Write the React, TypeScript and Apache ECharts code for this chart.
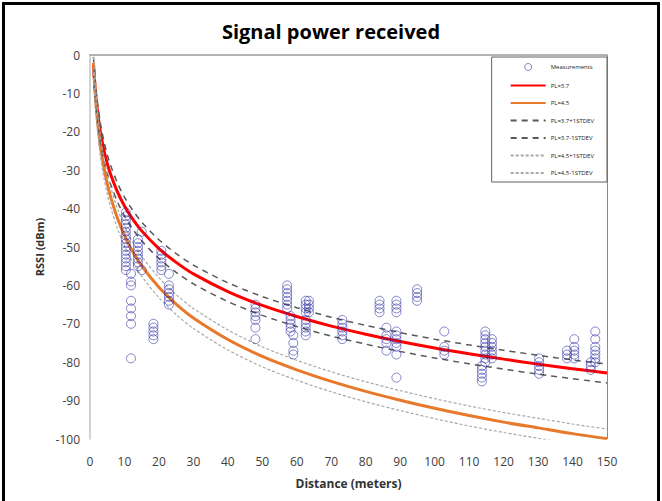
import React, { useEffect, useRef } from "react";
import * as echarts from "echarts";

// Measurement clusters: distance (m) and the RSSI readings (dBm) at that distance
const clusterDistances = [
  10.4, 11.9, 13.9, 15.0, 18.4, 20.7, 22.9, 48.0, 57.2, 58.2, 59.0, 62.6, 63.5,
  73.2, 84.0, 86.0, 88.9, 94.9, 102.8, 113.7, 114.7, 116.6, 130.3, 138.4, 140.5,
  145.3, 146.6,
];
const clusterRssi = [
  [-41, -42, -43, -44, -45, -46, -47, -48, -49, -50, -51, -52, -53, -54, -55, -56],
  [-57, -59, -60, -64, -66, -68, -70, -79],
  [-48, -49, -50, -51, -52, -53, -54, -55],
  [-46, -56],
  [-70, -71, -72, -73, -74],
  [-51, -52, -53, -54, -55, -56],
  [-57, -60, -61, -62, -63, -64, -65],
  [-65, -66, -67, -68, -69, -71, -74],
  [-60, -61, -62, -63, -64, -65, -66],
  [-68, -69, -70, -71, -72],
  [-73, -75, -77, -78],
  [-64, -65, -66, -67, -69, -70, -71, -72, -73],
  [-64, -65, -66, -67],
  [-69, -70, -71, -72, -73, -74],
  [-64, -65, -66, -67],
  [-71, -73, -74, -75, -77],
  [-64, -65, -66, -67, -72, -73, -74, -75, -76, -78, -84],
  [-61, -62, -63, -64],
  [-72, -76, -77, -78],
  [-81, -82, -83, -84, -85],
  [-72, -73, -74, -75, -76, -77, -78, -79, -80],
  [-74, -75, -76, -77, -78, -79],
  [-79, -80, -81, -82, -83],
  [-77, -78, -79],
  [-74, -76, -77, -78, -79],
  [-80, -81, -82],
  [-72, -74, -76, -77, -78, -79, -80],
];

// Model curves
const curveDistances = [
  1, 1.5, 2, 3, 4, 5, 6, 8, 10, 12, 15, 20, 25, 30, 40, 50, 60, 70, 80, 90, 100,
  110, 120, 130, 140, 150,
];
const pl37 = [
  -2.3, -8.8, -13.4, -20.0, -24.6, -28.2, -31.1, -35.7, -39.3, -42.2, -45.8,
  -50.4, -54.0, -57.0, -61.6, -65.2, -68.1, -70.6, -72.7, -74.6, -76.3, -77.8,
  -79.2, -80.5, -81.7, -82.8,
];
const pl45 = [
  -2.0, -9.9, -15.5, -23.5, -29.1, -33.5, -37.0, -42.6, -47.0, -50.6, -54.9,
  -60.5, -64.9, -68.5, -74.1, -78.5, -82.0, -85.0, -87.6, -89.9, -92.0, -93.9,
  -95.6, -97.1, -98.6, -99.9,
];
const pl37Plus = [
  -0.5, -6.5, -11.1, -17.7, -22.3, -25.9, -28.8, -33.4, -37.0, -39.9, -43.5, -48.1,
  -51.7, -54.7, -59.3, -62.9, -65.8, -68.3, -70.4, -72.3, -74.0, -75.5, -76.9,
  -78.2, -79.4, -80.5,
];
const pl37Minus = [
  -4.9, -11.4, -16.0, -22.6, -27.2, -30.8, -33.7, -38.3, -41.9, -44.8, -48.4,
  -53.0, -56.6, -59.6, -64.2, -67.8, -70.7, -73.2, -75.3, -77.2, -78.9, -80.4,
  -81.8, -83.1, -84.3, -85.4,
];
const pl45Plus = [
  -0.5, -7.4, -13.0, -21.0, -26.6, -31.0, -34.5, -40.1, -44.5, -48.1, -52.4, -58.0,
  -62.4, -66.0, -71.6, -76.0, -79.5, -82.5, -85.1, -87.4, -89.5, -91.4, -93.1,
  -94.6, -96.1, -97.4,
];
const pl45Minus = [
  -4.7, -12.6, -18.2, -26.2, -31.8, -36.2, -39.7, -45.3, -49.7, -53.3, -57.6,
  -63.2, -67.6, -71.2, -76.8, -81.2, -84.7, -87.7, -90.3, -92.6, -94.7, -96.6,
  -98.3, -99.8, -101.3, -102.6,
];

const seriesNames = [
  "Measurements",
  "PL=3.7",
  "PL=4.5",
  "PL=3.7+1STDEV",
  "PL=3.7-1STDEV",
  "PL=4.5+1STDEV",
  "PL=4.5-1STDEV",
];

const FONT = "'Open Sans', 'Noto Sans', sans-serif";

export default function App() {
  const ref = useRef<HTMLDivElement>(null);
  useEffect(() => {
    if (!ref.current) return;
    const chart = echarts.init(ref.current, undefined, { renderer: "svg" });

    const measurements: number[][] = [];
    clusterDistances.forEach((d, i) => {
      clusterRssi[i].forEach((r) => measurements.push([d, r]));
    });
    const pair = (ys: number[]) => curveDistances.map((d, i) => [d, ys[i]]);

    const lineSeries = (
      name: string,
      ys: number[],
      color: string,
      width: number,
      type: any
    ) => ({
      name,
      type: "line",
      data: pair(ys),
      symbol: "none",
      smooth: 0.3,
      clip: true,
      lineStyle: { color, width, type },
      itemStyle: { color },
      z: 3,
    });

    chart.setOption({
      animation: false,
      backgroundColor: "#fff",
      textStyle: { fontFamily: FONT },
      title: {
        text: "Signal power received",
        left: "center",
        top: 16,
        textStyle: {
          fontFamily: FONT,
          fontSize: 20,
          fontWeight: "bold",
          color: "#000",
        },
      },
      graphic: [
        {
          type: "rect",
          shape: { x: 3.5, y: 3.5, width: 655, height: 530 },
          style: { fill: "none", stroke: "#000", lineWidth: 3 },
          silent: true,
        },
        {
          type: "line",
          shape: { x1: 607.5, y1: 55, x2: 607.5, y2: 439 },
          style: { stroke: "#8a8a8a", lineWidth: 1 },
          silent: true,
        },
      ],
      legend: {
        orient: "vertical",
        right: 55,
        top: 57,
        data: seriesNames.map((n, i) =>
          i === 0
            ? { name: n, itemStyle: { borderColor: "rgba(60,60,170,0.8)", borderWidth: 1 } }
            : { name: n, itemStyle: { opacity: 0 } }
        ),
        itemWidth: 35,
        itemHeight: 7,
        itemGap: 11.5,
        padding: [6, 13, 6, 18],
        borderColor: "#606060",
        borderWidth: 1,
        backgroundColor: "#fff",
        textStyle: { fontSize: 6, color: "#222", fontFamily: FONT },
      },
      grid: { left: 90, right: 55, top: 55, bottom: 62 },
      xAxis: {
        type: "value",
        min: 0,
        max: 150,
        interval: 10,
        name: "Distance (meters)",
        nameLocation: "middle",
        nameGap: 38,
        nameTextStyle: {
          fontFamily: FONT,
          fontSize: 12,
          fontWeight: "bold",
          color: "#333",
        },
        axisLine: { show: true, lineStyle: { color: "#9a9a9a", width: 1.5 } },
        axisTick: { show: false },
        splitLine: { show: false },
        axisLabel: { fontSize: 12, color: "#404040", margin: 16, fontFamily: FONT },
      },
      yAxis: {
        type: "value",
        min: -100,
        max: 0,
        interval: 10,
        name: "RSSI (dBm)",
        nameLocation: "middle",
        nameGap: 42,
        nameTextStyle: {
          fontFamily: FONT,
          fontSize: 11,
          fontWeight: "bold",
          color: "#333",
        },
        axisLine: { show: true, lineStyle: { color: "#c4c4c4", width: 1.5 } },
        axisTick: { show: false },
        splitLine: { show: false },
        axisLabel: { fontSize: 12, color: "#404040", margin: 10, fontFamily: FONT },
      },
      series: [
        {
          name: "Measurements",
          type: "scatter",
          data: measurements,
          symbol: "circle",
          symbolSize: 9,
          itemStyle: {
            color: "rgba(0,0,0,0)",
            borderColor: "rgba(40,40,160,0.7)",
            borderWidth: 1,
          },
          z: 4,
        },
        lineSeries("PL=3.7", pl37, "#ff0000", 3, "solid"),
        lineSeries("PL=4.5", pl45, "#e8792a", 3, "solid"),
        lineSeries("PL=3.7+1STDEV", pl37Plus, "#595959", 1.5, [6, 5]),
        lineSeries("PL=3.7-1STDEV", pl37Minus, "#595959", 1.5, [6, 5]),
        lineSeries("PL=4.5+1STDEV", pl45Plus, "#a8a8a8", 1.2, [3, 2]),
        lineSeries("PL=4.5-1STDEV", pl45Minus, "#a8a8a8", 1.2, [3, 2]),
      ],
    });
    return () => chart.dispose();
  }, []);
  return (
    <div
      ref={ref}
      style={{ position: "fixed", left: 0, top: 0, width: 662, height: 501 }}
    />
  );
}
